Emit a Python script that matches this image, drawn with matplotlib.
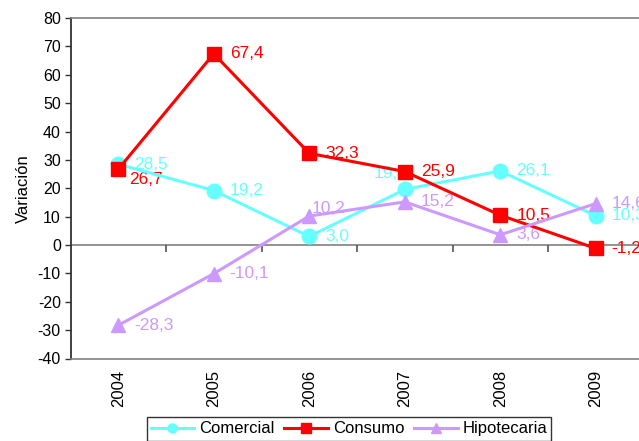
import matplotlib
matplotlib.use("Agg")
import matplotlib.pyplot as plt
from matplotlib.lines import Line2D
import numpy as np

plt.rcParams['font.family'] = ['Liberation Sans', 'DejaVu Sans']

years = ["2004", "2005", "2006", "2007", "2008", "2009"]
comercial = [28.5, 19.2, 3.0, 19.6, 26.1, 10.3]
consumo = [26.7, 67.4, 32.3, 25.9, 10.5, -1.2]
hipotecaria = [-28.3, -10.1, 10.2, 15.2, 3.6, 14.6]
series_names = ["Comercial", "Consumo", "Hipotecaria"]
y_ticks = [-40, -30, -20, -10, 0, 10, 20, 30, 40, 50, 60, 70, 80]

colors = ["#66FFFF", "#FF0000", "#CC99FF"]
markers = ["o", "s", "^"]

W, H = 639, 441
fig = plt.figure(figsize=(W / 100, H / 100), dpi=100)
left_px, right_px, top_px, bot_px = 70.5, 643.5, 18, 358.5
ax = fig.add_axes([left_px / W, 1 - bot_px / H, (right_px - left_px) / W, (bot_px - top_px) / H])

x = np.arange(len(years))
all_series = [comercial, consumo, hipotecaria]
for vals, name, c, m in zip(all_series, series_names, colors, markers):
    ax.plot(x, vals, color=c, marker=m, markersize=10.5, linewidth=2.2,
            label=name, clip_on=False, zorder=3)

def fmt(v):
    return ("%.1f" % v).replace(".", ",")

offsets = {
    ("Comercial", 3): (3, 16, "right"),
    ("Consumo", 0): (11, -10, "left"),
    ("Hipotecaria", 2): (2, 8, "left"),
}
for vals, name, c in zip(all_series, series_names, colors):
    for i, v in enumerate(vals):
        dx, dy, ha = offsets.get((name, i), (16, 0, "left"))
        ax.annotate(fmt(v), (x[i], v), xytext=(dx, dy), textcoords="offset pixels",
                    ha=ha, va="center", color=c, fontsize=12.5, zorder=2,
                    annotation_clip=False)

ax.set_xlim(-0.5, len(years) - 0.5)
ax.set_ylim(-40, 80)
ax.set_yticks(y_ticks)
ax.set_yticklabels([str(t) for t in y_ticks], fontsize=11.5)
ax.set_xticks(x)
ax.set_xticklabels(years, rotation=90, fontsize=12)
ax.tick_params(axis="x", length=0, pad=8)
ax.tick_params(axis="y", direction="out", length=4, width=1, color="#333333", pad=3)

ax.spines["right"].set_visible(False)
ax.spines["left"].set_color("#333333")
ax.spines["left"].set_linewidth(1.3)
for s in ["top", "bottom"]:
    ax.spines[s].set_color("#808080")
    ax.spines[s].set_linewidth(1.2)

ax.axhline(0, color="#808080", linewidth=1.2, zorder=1)
bounds = np.arange(0.5, len(years) - 0.5, 1.0)
ax.plot(bounds, np.zeros_like(bounds), ls="none", marker=3, markersize=5,
        markeredgewidth=1.2, color="#555555", zorder=1)

ax.set_ylabel("Variación", fontsize=12, labelpad=5)

handles = [Line2D([0], [0], color=c, marker=m, markersize=6.5, linewidth=2.2)
           for c, m in zip(colors, markers)]
leg = fig.legend(handles, series_names, loc="lower center",
                 bbox_to_anchor=(349 / W, 0.5 / H), ncol=3, fontsize=12,
                 frameon=True, fancybox=False, edgecolor="black",
                 handlelength=2.6, handletextpad=0.3, columnspacing=0.6,
                 borderpad=0.25, borderaxespad=0)
leg.get_frame().set_linewidth(1.0)

fig.savefig("out.png", dpi=100)
